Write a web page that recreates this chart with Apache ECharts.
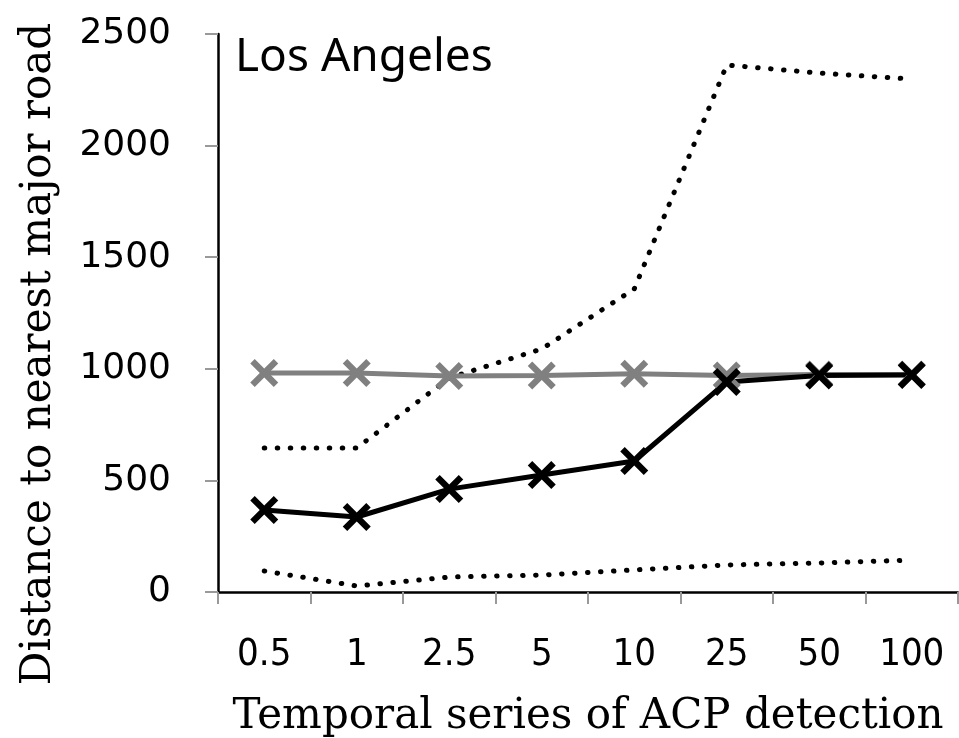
<!DOCTYPE html>
<html>
<head>
<meta charset="utf-8">
<script src="https://cdn.jsdelivr.net/npm/echarts@6/dist/echarts.min.js"></script>
<style>
  html, body { margin: 0; padding: 0; background: #fff; }
  #chart { width: 959px; height: 738px; }
</style>
</head>
<body>
<div id="chart"></div>
<script>
const categories = ['0.5', '1', '2.5', '5', '10', '25', '50', '100']
const yTicks = [0, 500, 1000, 1500, 2000, 2500]

// median (black), reference (gray), upper/lower bounds (dotted)
const medianValues = [367, 336, 461, 524, 587, 941, 970, 972]
const referenceValues = [981, 981, 968, 970, 978, 970, 975, 975]
const upperValues = [645, 645, 959, 1089, 1358, 2361, 2325, 2298]
const lowerValues = [94, 27, 67, 76, 99, 121, 130, 143]

const crossPath = 'path://M0,1.6 L1.6,0 L5,3.4 L8.4,0 L10,1.6 L6.6,5 L10,8.4 L8.4,10 L5,6.6 L1.6,10 L0,8.4 L3.4,5 Z'

const xLabelFont = '"DejaVu Sans Condensed", "Liberation Sans Narrow", "Open Sans", sans-serif'
const yLabelFont = '"DejaVu Sans", "Open Sans", sans-serif'
const titleFont = '"DejaVu Serif", "Liberation Serif", serif'

const chart = echarts.init(document.getElementById('chart'))

const dotted = (name, data) => ({
  name: name,
  type: 'line',
  data: data,
  symbol: 'none',
  silent: true,
  lineStyle: { color: '#000', width: 5, type: [0.5, 12.5], cap: 'round' }
})

const option = {
  animation: false,
  backgroundColor: '#fff',
  title: {
    text: 'Los Angeles',
    left: 230,
    top: 30,
    textStyle: { fontFamily: '"Noto Sans", sans-serif', fontSize: 46, fontWeight: 'normal', color: '#000' }
  },
  grid: { left: 218, right: 1, top: 34, bottom: 146, outerBoundsMode: 'none', containLabel: false },
  xAxis: {
    type: 'category',
    data: categories,
    boundaryGap: true,
    name: 'Temporal series of ACP detection',
    nameLocation: 'middle',
    nameGap: 104,
    nameTextStyle: { fontFamily: titleFont, fontSize: 42, color: '#000' },
    axisLine: { lineStyle: { color: '#000', width: 2.5 } },
    axisTick: { show: true, length: 12, lineStyle: { color: '#999', width: 2 } },
    axisLabel: { fontFamily: xLabelFont, fontSize: 38, color: '#000', margin: 44 }
  },
  yAxis: {
    type: 'value',
    min: yTicks[0],
    max: yTicks[yTicks.length - 1],
    interval: 500,
    name: 'Distance to nearest major road',
    nameLocation: 'middle',
    nameGap: 158,
    nameTextStyle: { fontFamily: titleFont, fontSize: 42, color: '#000', padding: [0, 82, 0, 0] },
    axisLine: { show: true, lineStyle: { color: '#000', width: 2.5 } },
    axisTick: { show: true, length: 13, lineStyle: { color: '#999', width: 2 } },
    splitLine: { show: false },
    axisLabel: { fontFamily: yLabelFont, fontSize: 36, color: '#000', margin: 47, formatter: v => String(v) }
  },
  series: [
    dotted('Upper', upperValues),
    dotted('Lower', lowerValues),
    {
      name: 'Reference',
      type: 'line',
      data: referenceValues,
      symbol: crossPath,
      symbolSize: 28,
      itemStyle: { color: '#808080' },
      lineStyle: { color: '#808080', width: 5 }
    },
    {
      name: 'Median',
      type: 'line',
      data: medianValues,
      symbol: crossPath,
      symbolSize: 28,
      itemStyle: { color: '#000' },
      lineStyle: { color: '#000', width: 5 }
    }
  ]
}

chart.setOption(option)
</script>
</body>
</html>
